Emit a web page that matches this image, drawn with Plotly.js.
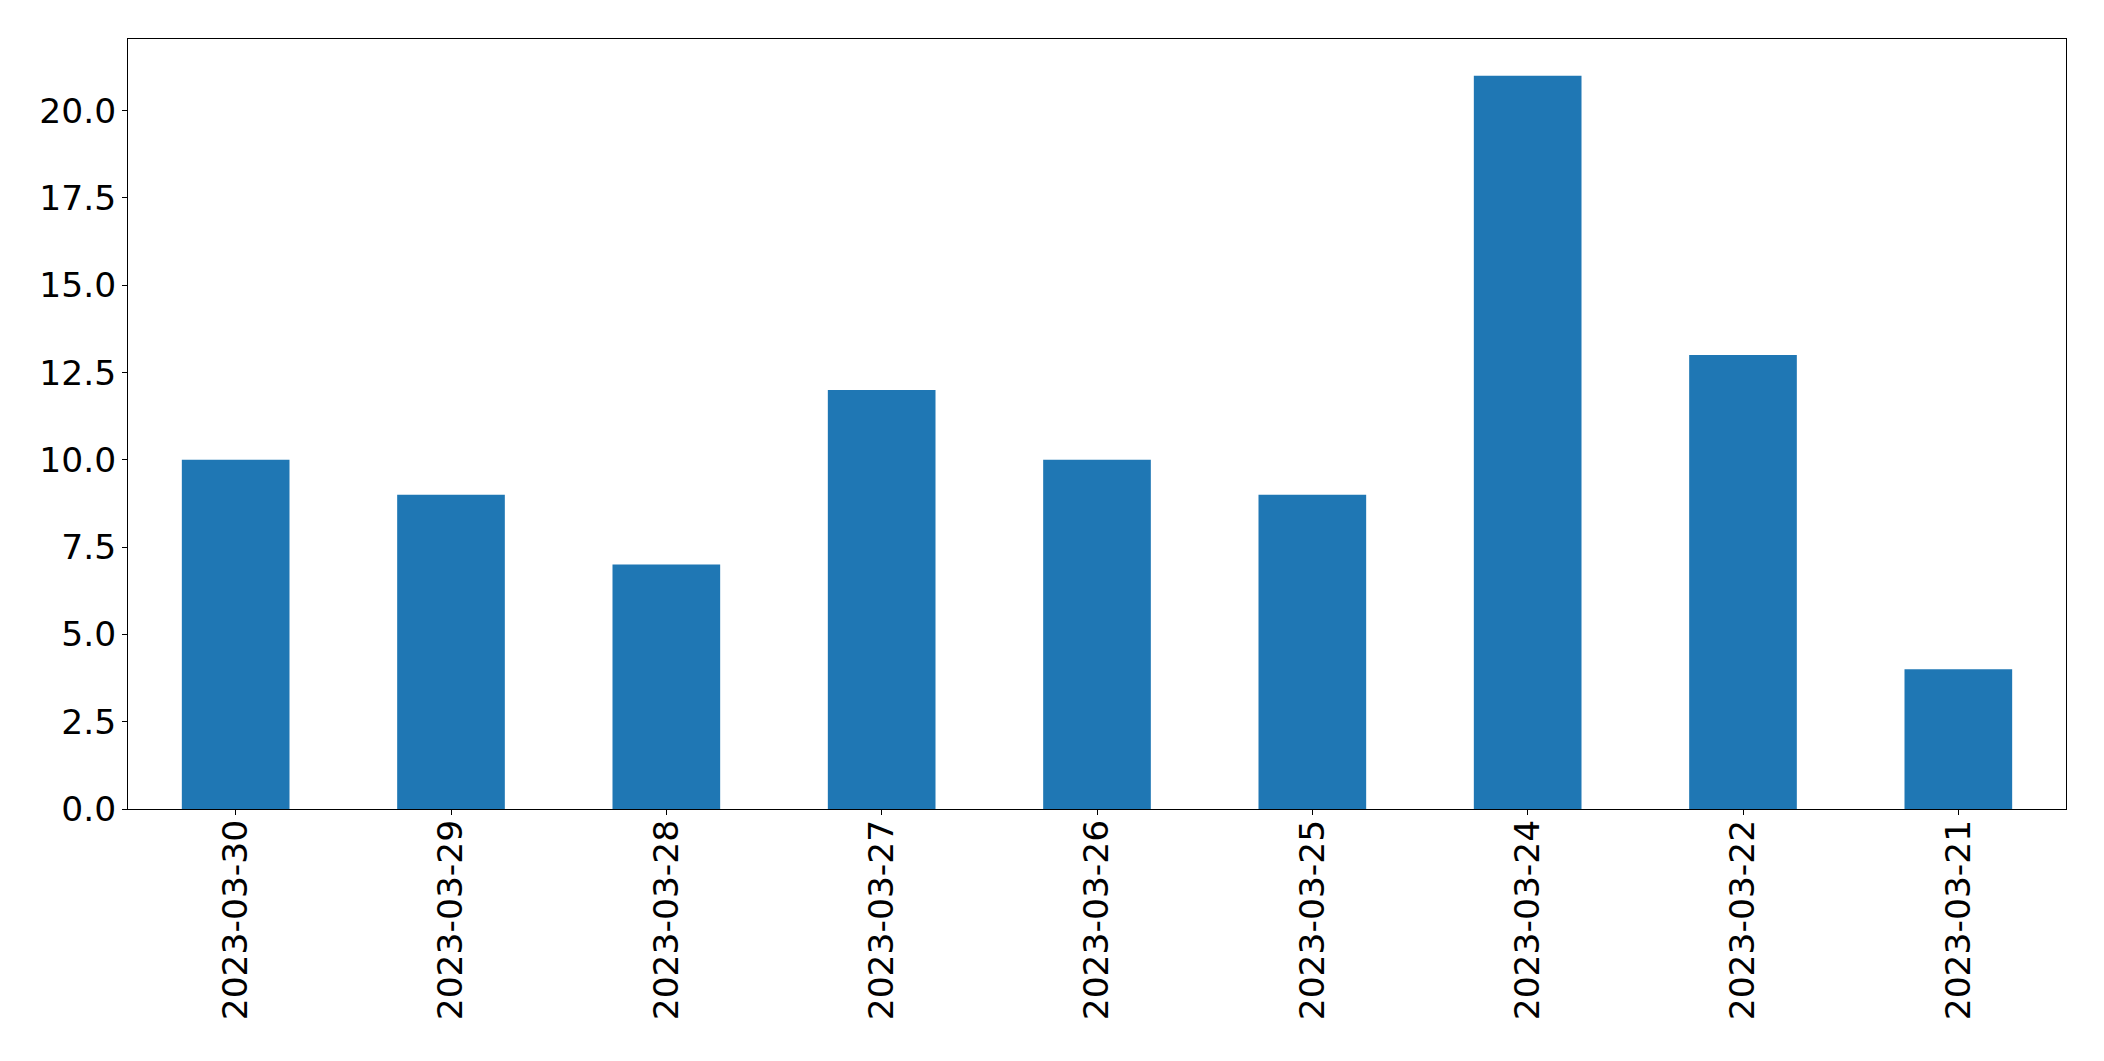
<!DOCTYPE html>
<html>
<head>
<meta charset="utf-8">
<script src="https://cdn.plot.ly/plotly-3.0.1.min.js"></script>
<style>html,body{margin:0;padding:0;background:#fff;}#chart{width:2104px;height:1061px;}</style>
</head>
<body>
<div id="chart"></div>
<script>
const categories = ["2023-03-30","2023-03-29","2023-03-28","2023-03-27","2023-03-26","2023-03-25","2023-03-24","2023-03-22","2023-03-21"];
const counts = [10, 9, 7, 12, 10, 9, 21, 13, 4];
const yTicks = [0, 2.5, 5, 7.5, 10, 12.5, 15, 17.5, 20];

const font = {family: "DejaVu Sans", size: 34.5, color: "#000"};

Plotly.newPlot("chart", [{
  type: "bar",
  x: categories,
  y: counts,
  width: 0.5,
  marker: {color: "#1f77b4", line: {width: 0}},
  hoverinfo: "x+y"
}], {
  width: 2104, height: 1061,
  margin: {l: 128, r: 38, t: 39, b: 252, pad: 0},
  paper_bgcolor: "#fff", plot_bgcolor: "#fff",
  showlegend: false,
  font: font,
  xaxis: {
    type: "category",
    range: [-0.5, categories.length - 0.5],
    tickangle: -90,
    ticks: "outside", ticklen: 5, tickwidth: 1, tickcolor: "#000",
    ticklabelstandoff: -9,
    showline: true, mirror: true, linecolor: "#000", linewidth: 1,
    showgrid: false, zeroline: false,
    tickfont: font
  },
  yaxis: {
    range: [0, 22.05],
    tickmode: "array", tickvals: yTicks, ticktext: yTicks.map(v => v.toFixed(1)),
    ticks: "outside", ticklen: 5, tickwidth: 1, tickcolor: "#000",
    ticklabelstandoff: -1,
    showline: true, mirror: true, linecolor: "#000", linewidth: 1,
    showgrid: false, zeroline: false,
    tickfont: font
  }
}, {staticPlot: true});
</script>
</body>
</html>
